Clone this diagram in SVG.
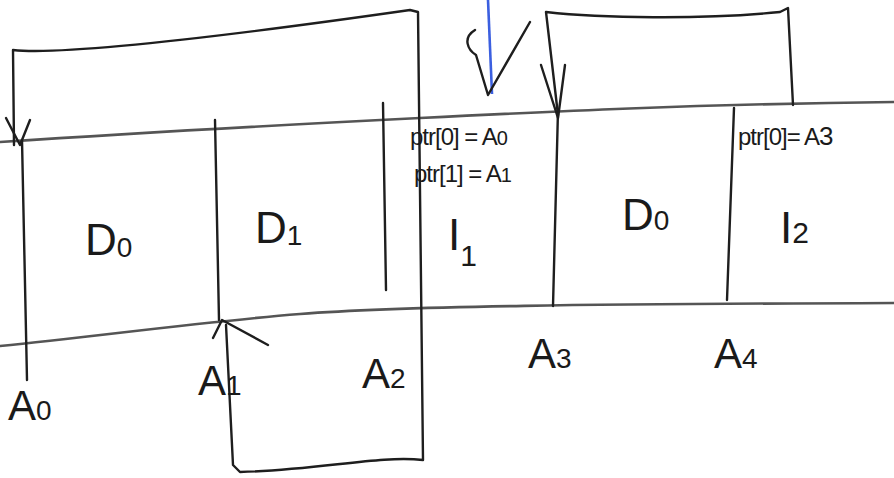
<svg xmlns="http://www.w3.org/2000/svg" width="894" height="478" viewBox="0 0 894 478">
<style>
.ln{fill:none;stroke:#1e1e1e;stroke-width:2.4;stroke-linecap:round;stroke-linejoin:round}
.rail{fill:none;stroke:#555;stroke-width:2.6;stroke-linecap:round}
.t{font-family:"Liberation Sans","DejaVu Sans",sans-serif;fill:#1a1a1a}
.big{font-size:44px}
.mid{font-size:42px}
.sm{font-size:24px;letter-spacing:-1px}
</style>
<rect width="894" height="478" fill="#ffffff"/>
<g id="strip">
<path class="rail" d="M0,142 C150,132 300,124 420,118 S700,104 894,102"/>
<path class="rail" d="M0,346 C100,336 200,322 300,314 S600,304 894,303"/>
</g>
<g id="dividers">
<path class="ln" d="M215,120 L219,320"/>
<path class="ln" d="M383,103 L386,290"/>
<path class="ln" d="M734,108 L727,300"/>
<path class="ln" d="M22,140 L27,380"/>
<path class="ln" d="M558,110 L553,306"/>
</g>
<g id="connectors">
<path class="ln" d="M14,145 L13,50 C60,55 200,40 410,10 L418,12 L423,460 C380,455 320,470 240,472 L233,465 L226,325"/>
<path class="ln" d="M6,118 L20,145 L30,120"/>
<path class="ln" d="M213,338 L222,320 L268,345"/>
<path class="ln" d="M558,115 L546,12 C600,18 700,20 780,12 L788,8 L793,105"/>
<path class="ln" d="M541,65 L558,118 L565,65"/>
<path d="M488,0 L492,94" fill="none" stroke="#3b5fe0" stroke-width="2.6"/>
<path class="ln" d="M475,30 C462,38 468,50 476,55 L488,95 L530,22"/>
</g>
<g id="D0a"><text class="t big" x="85" y="255">D<tspan font-size="28" dy="2">0</tspan></text></g>
<g id="D1"><text class="t big" x="255" y="243">D<tspan font-size="28" dy="2">1</tspan></text></g>
<g id="I1">
<text class="t sm" x="410" y="145">ptr[0] = A<tspan font-size="20">0</tspan></text>
<text class="t sm" x="414" y="182">ptr[1] = A<tspan font-size="20">1</tspan></text>
<text class="t big" x="448" y="250">I<tspan font-size="30" dy="16">1</tspan></text>
</g>
<g id="D0b"><text class="t big" x="622" y="230">D<tspan font-size="28" dy="0">0</tspan></text></g>
<g id="I2">
<text class="t sm" x="738" y="145" font-size="27">ptr[0]= A<tspan font-size="26">3</tspan></text>
<text class="t big" x="780" y="243">I<tspan font-size="30" dy="0">2</tspan></text>
</g>
<g id="labels">
<text class="t mid" x="8" y="420">A<tspan font-size="28" dy="0">0</tspan></text>
<text class="t mid" x="198" y="395">A<tspan font-size="28" dy="0">1</tspan></text>
<text class="t mid" x="362" y="388">A<tspan font-size="28" dy="0">2</tspan></text>
<text class="t mid" x="528" y="368">A<tspan font-size="28" dy="0">3</tspan></text>
<text class="t mid" x="714" y="368">A<tspan font-size="28" dy="0">4</tspan></text>
</g>
</svg>
